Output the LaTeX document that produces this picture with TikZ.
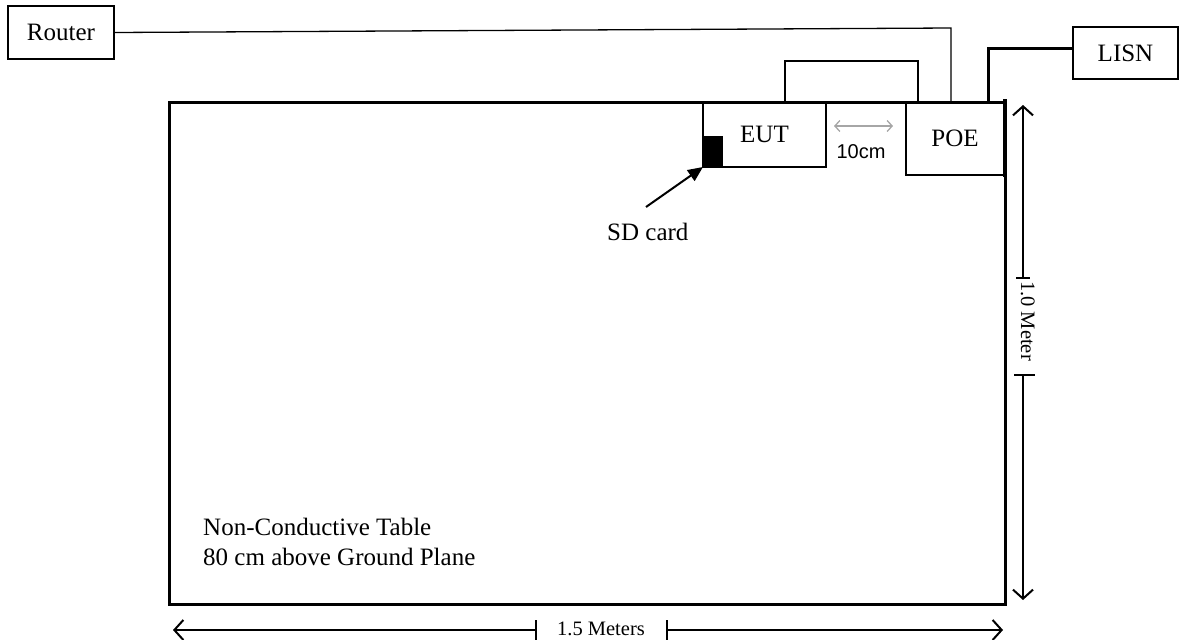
\documentclass[tikz,border=0pt]{standalone}
\usepackage{fontspec}
\setmainfont{Liberation Serif}
\newfontfamily\arialf{Liberation Sans}
\usetikzlibrary{arrows.meta}
\tikzset{
  box/.style={draw, line width=1.2pt, inner sep=0pt, font=\fontsize{25}{30}\selectfont},
  thinwire/.style={line width=1.3pt},
  thickwire/.style={line width=3pt},
  dimline/.style={line width=1.6pt, arrows={-Straight Barb[length=9pt,width=20pt,line width=2pt]}},
  tickline/.style={line width=1.3pt},
  lbl/.style={inner sep=0pt, font=\fontsize{25}{30}\selectfont}
}
\begin{document}
\begin{tikzpicture}[x=1pt,y=-1pt]
\useasboundingbox (0,0) rectangle (1179,640);
% table
\node[draw, line width=3pt, minimum width=836pt, minimum height=502pt, inner sep=0pt] (table) at (587,353) {};
% boxes
\node[box, minimum width=106pt, minimum height=53pt] (router) at (61,32.5) {Router};
\node[box, minimum width=105pt, minimum height=52pt] (lisn) at (1125.5,53) {LISN};
\node[box, minimum width=123pt, minimum height=65pt] (eut) at (764.5,134.5) {EUT};
\node[box, minimum width=98pt, minimum height=73pt] (poe) at (955,138.5) {POE};
\draw[line width=3pt] (table.north east) -- (poe.south east |- table.north east) -- ([yshift=-1pt]poe.south east);
% SD card
\node[fill=black, inner sep=0pt, minimum width=20pt, minimum height=31pt, anchor=south west] (sd) at (703,167) {};
\node[lbl, anchor=base west] (sdlbl) at (607,240) {SD card};
\coordinate (sdtail) at (646,207);
\draw[line width=2pt, -{Triangle[length=15pt,width=13pt]}] (sdtail) -- (sd.south west);
% cables
\coordinate (r1) at (951,28);
\coordinate (r2) at (951,102);
\draw[thinwire] (router.east) -- (r1) -- (r2);
\coordinate (l1) at (785,102);
\coordinate (l2) at (785,61);
\coordinate (l3) at (918,61);
\coordinate (l4) at (918,102);
\draw[thinwire] (l1) -- (l2) -- (l3) -- (l4);
\coordinate (p1) at (988,102);
\coordinate (p2) at (988,48);
\draw[thickwire] (p1) -- (p2) -- (p2 -| lisn.west);
% 10 cm
\coordinate (g1) at (834,126);
\coordinate (g2) at (893,126);
\draw[gray!70, line width=1.3pt, {Straight Barb[length=5pt,width=11pt]}-{Straight Barb[length=5pt,width=11pt]}] (g1) -- (g2);
\node[inner sep=0pt, anchor=base, font=\arialf\fontsize{20}{24}\selectfont] (tencm) at (861,158) {10cm};
% table text
\node[lbl, anchor=base west] (t1) at (203,535) {Non-Conductive Table};
\node[lbl, anchor=base west] (t2) at (203,565) {80 cm above Ground Plane};
% horizontal dimension
\coordinate (h1) at (536,630);
\coordinate (h2) at (173,630);
\coordinate (h3) at (667,630);
\coordinate (h4) at (1003,630);
\draw[dimline] (h1) -- (h2);
\draw[dimline] (h3) -- (h4);
\draw[tickline] (536,620) -- (536,641);
\draw[tickline] (667,620) -- (667,641);
\node[inner sep=0pt, anchor=base, font=\fontsize{20.5}{24}\selectfont] (hl) at (601,635) {1.5 Meters};
% vertical dimension
\coordinate (v1) at (1023,278);
\coordinate (v2) at (1023,105);
\coordinate (v3) at (1023,375);
\coordinate (v4) at (1023,600);
\draw[dimline] (v1) -- (v2);
\draw[dimline] (v3) -- (v4);
\draw[tickline] (1016,278) -- (1030,278);
\draw[tickline] (1014,375) -- (1035,375);
\node[inner sep=0pt, rotate=-90, anchor=base west, font=\fontsize{20.5}{24}\selectfont] (vl) at (1021,281) {1.0 Meter};
\end{tikzpicture}
\end{document}
